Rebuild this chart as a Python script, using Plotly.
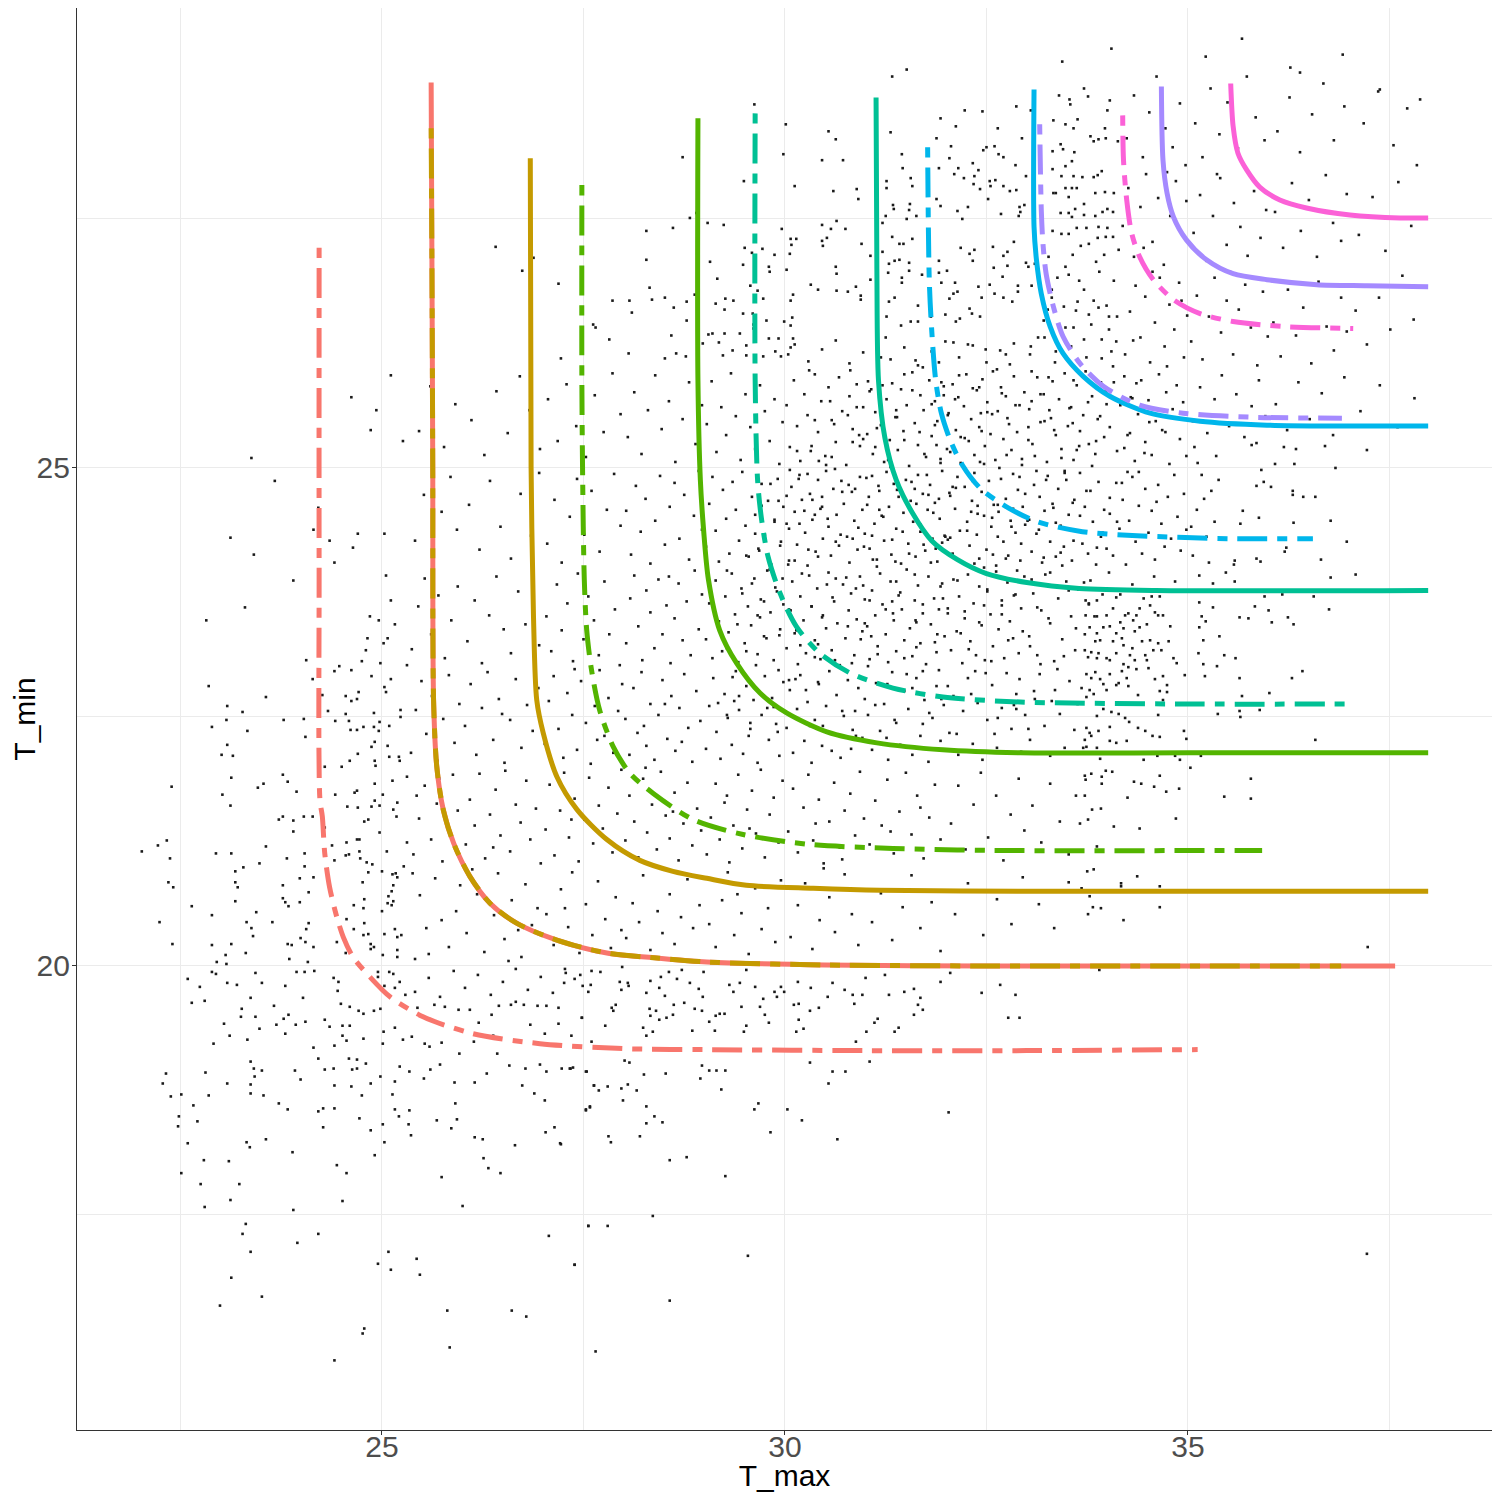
import plotly.graph_objects as go

# T_max, T_min, T_max, T_min, ...
obs_lower_left = [
    22.32, 18.92, 22.28, 18.82, 22.38, 18.69, 22.51, 18.71, 22.48, 18.49, 22.47, 18.39,
    22.66, 18.60, 22.71, 18.44, 22.81, 18.93, 22.85, 18.70, 22.59, 18.22, 22.79, 18.05,
    22.51, 17.92, 22.75, 17.81, 22.80, 17.58, 23.10, 18.04, 23.12, 17.65, 23.23, 17.81,
    23.32, 18.23, 23.36, 18.18, 23.56, 18.26, 23.37, 19.04, 23.41, 18.97, 23.42, 18.89,
    23.37, 18.81, 23.37, 18.72, 23.51, 18.95, 23.53, 18.70, 23.08, 18.82, 23.72, 18.62,
    23.83, 18.56, 23.89, 18.13, 23.90, 17.55, 23.92, 18.95, 23.99, 18.86, 24.21, 18.54,
    24.27, 18.57, 24.27, 18.38, 24.41, 18.57, 24.41, 18.80, 24.40, 18.97, 24.29, 18.96,
    24.21, 19.07, 24.44, 18.00, 24.56, 17.92, 24.51, 17.64, 24.63, 18.96, 24.69, 18.97,
    24.59, 19.07, 24.69, 19.06, 24.80, 19.02, 24.62, 18.79, 24.75, 18.70, 24.72, 18.47,
    24.86, 18.35, 24.86, 18.82, 24.91, 18.10, 24.98, 18.89, 25.01, 18.41, 25.03, 18.23,
    25.13, 18.71, 25.16, 18.84, 25.16, 18.56, 25.21, 18.49, 25.22, 18.99, 25.34, 18.94,
    25.34, 18.55, 25.33, 18.41, 25.36, 18.30, 25.52, 18.87, 25.60, 18.96, 25.72, 19.01,
    25.68, 18.45, 25.86, 18.37, 25.91, 18.62, 25.93, 18.46, 25.90, 18.83, 25.74, 17.88,
    26.00, 17.59, 26.15, 18.83, 26.15, 18.28, 26.25, 18.26, 26.26, 18.07, 26.32, 17.97,
    26.47, 17.92, 26.30, 18.92, 26.58, 19.00, 26.78, 18.97, 26.74, 18.80, 26.89, 18.72,
    26.96, 19.01, 27.04, 18.94, 27.02, 18.65, 27.03, 18.33, 27.14, 18.38, 27.22, 18.21,
    27.23, 18.97, 27.34, 18.97, 27.54, 18.94, 27.53, 18.56, 27.58, 18.58, 27.63, 18.80,
    26.65, 18.20, 23.31, 17.41, 23.27, 17.31, 23.37, 17.13, 23.95, 17.22, 24.21, 17.31,
    23.13, 16.87, 23.51, 16.68, 22.99, 16.59, 25.08, 17.13, 24.95, 17.01, 25.11, 16.95,
    25.43, 17.06, 25.47, 16.90, 25.81, 16.54, 25.84, 16.17, 26.61, 16.54, 26.79, 16.48,
    24.78, 16.36, 24.76, 16.31, 24.41, 16.04, 27.07, 17.29, 27.56, 17.39, 27.39, 17.00,
    27.65, 16.13,
]

obs_band = [
    22.64, 19.63, 22.80, 19.65, 23.04, 19.42, 23.11, 19.30, 22.91, 19.22, 23.25, 19.49,
    23.26, 19.57, 23.33, 19.26, 23.43, 19.49, 23.48, 19.37, 23.66, 19.60, 23.69, 19.41,
    23.78, 19.47, 23.84, 19.51, 23.80, 19.32, 23.93, 19.41, 24.05, 19.44, 24.15, 19.18,
    24.29, 19.46, 24.35, 19.39, 24.51, 19.40, 24.60, 19.40, 24.49, 19.62, 24.60, 19.59,
    24.71, 19.55, 24.77, 19.52, 24.90, 19.55, 24.98, 19.57, 24.51, 19.30, 24.56, 19.25,
    24.41, 19.20, 24.77, 19.27, 25.02, 19.34, 25.01, 19.22, 25.16, 19.38, 25.26, 19.26,
    25.37, 19.29, 25.44, 19.58, 25.53, 19.22, 25.65, 19.61, 25.78, 19.59, 25.74, 19.23,
    25.95, 19.56, 26.09, 19.56, 26.20, 19.43, 26.14, 19.24, 26.36, 19.51, 26.38, 19.30,
    26.45, 19.60, 26.60, 19.61, 26.66, 19.64, 26.76, 19.61, 26.84, 19.41, 26.93, 19.60,
    27.04, 19.60, 27.19, 19.58, 27.19, 19.42, 27.02, 19.32, 27.35, 19.30, 27.48, 19.48,
    27.60, 19.24, 26.43, 19.12, 25.96, 19.12, 25.59, 19.19,
    25.41, 19.74, 25.58, 19.88, 25.72, 19.69, 25.89, 19.95, 26.03, 19.78, 26.19, 19.91,
    26.35, 19.71, 26.50, 19.84, 26.66, 19.97, 26.81, 19.76, 26.97, 19.89, 27.12, 19.73,
]

obs_left = [
    23.38, 25.10, 23.67, 24.87, 23.12, 24.30, 23.41, 24.13, 23.90, 23.87, 23.30, 23.60,
    22.82, 23.47, 24.06, 23.07, 24.14, 22.88, 22.85, 22.81, 23.56, 22.70, 23.08, 22.61,
    23.27, 22.55, 23.07, 22.47, 23.78, 22.47, 22.89, 22.40, 23.33, 22.36, 24.03, 22.48,
    24.05, 22.30, 23.08, 22.22, 23.01, 22.12, 23.15, 22.11, 22.39, 21.80, 23.13, 21.89,
    23.77, 21.92, 23.83, 21.85, 23.46, 21.79, 23.53, 21.83, 23.02, 21.72, 23.12, 21.61,
    23.94, 21.75, 23.72, 21.47, 23.77, 21.50, 23.90, 21.46, 23.90, 21.35, 24.03, 21.50,
    24.14, 21.50, 22.33, 21.26, 22.22, 21.21, 22.02, 21.15, 22.37, 21.08, 22.94, 21.13,
    23.13, 21.13, 23.56, 21.20, 23.82, 21.08, 23.48, 21.03, 23.28, 20.99, 23.18, 20.95,
    24.04, 21.13, 24.04, 21.00, 22.35, 20.84, 22.41, 20.79, 23.18, 20.84, 23.21, 20.79,
    23.77, 20.81, 23.98, 20.88, 24.15, 20.89, 24.09, 20.74, 23.77, 20.68, 23.80, 20.64,
    23.84, 20.60, 23.98, 20.64, 23.18, 20.65, 22.64, 20.60, 22.89, 20.51, 23.44, 20.54,
    22.24, 20.44, 23.32, 20.44, 23.64, 20.44, 23.38, 20.38, 23.40, 20.30, 24.09, 20.43,
    24.06, 20.37, 23.99, 20.28, 24.05, 20.24, 22.40, 20.22, 22.89, 20.21, 23.13, 20.22,
    23.83, 20.22, 23.88, 20.21, 24.15, 20.19, 23.31, 20.13, 23.06, 20.11, 22.95, 20.04,
    23.07, 20.02, 23.85, 20.07, 24.08, 20.04, 22.59, 19.87, 22.74, 19.79, 22.89, 19.94,
    22.94, 19.92, 23.08, 19.83, 23.20, 19.81, 23.43, 19.93, 23.51, 19.83, 23.80, 19.80,
    23.94, 19.94, 24.04, 19.94, 24.16, 19.95, 23.37, 19.68, 24.02, 19.68,
    24.86, 25.38, 25.26, 25.27, 24.21, 24.60, 24.15, 24.38, 24.35, 24.27, 24.41, 24.05,
    24.64, 24.20, 24.70, 24.34, 25.03, 24.34, 25.05, 23.92, 25.11, 23.67, 24.85, 23.51,
    24.96, 23.47, 25.16, 23.43, 24.82, 23.29, 25.02, 23.24, 25.07, 23.29, 24.80, 23.17,
    24.75, 23.06, 24.98, 23.04, 25.31, 23.02, 24.47, 23.01, 24.41, 22.96, 24.62, 22.97,
    24.87, 22.91, 25.11, 22.88, 24.26, 22.72, 24.71, 22.75, 24.55, 22.71, 24.62, 22.66,
    24.69, 22.68, 25.03, 22.80, 25.05, 22.75, 24.33, 22.56, 24.55, 22.53, 24.90, 22.54,
    25.23, 22.57, 25.23, 22.50, 24.42, 22.46, 24.59, 22.46, 24.97, 22.45, 24.61, 22.37,
    24.69, 22.37, 24.77, 22.40, 24.90, 22.40, 25.09, 22.41, 24.96, 22.36, 24.91, 22.25,
    24.87, 22.20, 25.07, 22.21, 24.70, 22.13, 25.09, 22.10, 25.21, 22.10, 25.22, 22.06,
    24.60, 22.06, 24.91, 22.06, 24.92, 22.01, 24.50, 22.00, 24.29, 22.00, 25.31, 21.90,
    25.13, 21.86, 24.91, 21.83, 24.69, 21.76, 24.66, 21.74, 24.42, 21.72, 25.01, 21.72,
    25.19, 21.64, 24.91, 21.66, 24.70, 21.59, 24.57, 21.60, 24.87, 21.60, 24.97, 21.61,
    25.14, 21.57, 25.18, 21.50, 24.78, 21.45, 24.83, 21.47, 24.29, 21.39, 24.97, 21.34,
    24.69, 21.27, 24.72, 21.27, 24.56, 21.24, 25.31, 21.24, 24.38, 21.21, 25.06, 21.15,
    24.72, 21.15, 24.55, 21.11, 24.59, 21.12, 24.41, 21.06, 24.73, 21.08, 24.81, 21.04,
    24.88, 21.02, 25.27, 21.00, 25.00, 20.95, 24.83, 20.94, 25.13, 20.92, 25.17, 20.93,
    25.19, 20.89, 24.76, 20.84, 25.14, 20.81, 25.12, 20.75, 25.08, 20.70, 24.78, 20.67,
    25.14, 20.65, 25.07, 20.63, 25.12, 20.61, 24.65, 20.61, 24.77, 20.58, 25.00, 20.55,
    24.56, 20.47, 24.78, 20.43, 24.65, 20.37, 24.77, 20.31, 24.83, 20.32, 25.16, 20.37,
    25.03, 20.32, 24.44, 20.24, 24.55, 20.13, 24.86, 20.22, 24.90, 20.19, 24.86, 20.17,
    25.19, 20.29, 25.24, 20.31, 25.19, 20.16, 25.19, 20.09, 25.01, 20.11, 24.95, 19.94,
    24.95, 19.89, 25.09, 19.94, 25.14, 19.92, 25.22, 19.84, 24.40, 19.88, 24.46, 19.84,
    24.45, 19.75, 25.03, 19.80, 25.16, 19.78, 25.29, 19.71,
    24.62, 25.71, 25.11, 25.93, 24.93, 25.58,
]

obs_lower_mid = [
    27.21, 18.22, 27.33, 18.97, 27.37, 18.98, 27.53, 18.94, 27.53, 18.55, 27.58, 18.59,
    27.63, 18.80, 27.69, 18.75, 27.80, 18.79, 27.81, 18.29, 27.84, 18.23, 27.97, 18.77,
    27.99, 18.65, 28.01, 19.05, 28.05, 18.81, 28.07, 19.03, 28.16, 18.75, 28.20, 18.29,
    28.25, 18.91, 28.28, 18.59, 28.28, 18.42, 28.38, 18.49, 28.48, 18.43, 28.52, 18.92,
    28.57, 18.05, 28.78, 18.08, 28.95, 18.87, 28.97, 19.00, 29.06, 18.95, 29.15, 18.95,
    29.26, 18.95, 29.21, 18.76, 29.26, 17.89, 29.62, 18.56, 29.67, 18.62, 29.82, 18.33,
    30.03, 18.56, 30.21, 18.45, 30.31, 19.03, 30.54, 18.82, 30.59, 18.94, 30.75, 18.94,
    30.65, 18.26, 31.05, 19.04, 32.03, 18.53, 27.56, 17.39, 27.80, 17.39, 28.36, 17.49,
    27.39, 17.00, 29.54, 17.09, 28.57, 16.64, 37.22, 17.11,
    27.27, 19.97, 27.28, 19.93, 27.26, 19.83, 27.39, 19.87, 27.46, 19.91, 27.49, 19.80,
    27.48, 19.48, 27.56, 19.74, 27.59, 19.81, 27.60, 19.95, 27.71, 19.94, 27.85, 19.58,
    27.87, 19.55, 27.90, 19.61, 27.77, 19.40, 27.95, 19.84, 27.97, 19.76, 27.98, 19.99,
    28.05, 19.83, 28.06, 19.80, 28.24, 19.38, 28.28, 19.30, 28.28, 19.73, 28.33, 19.85,
    28.32, 19.57, 28.33, 19.50, 28.36, 19.34, 28.40, 19.55, 28.44, 19.78, 28.44, 19.46,
    28.46, 19.89, 28.51, 19.70, 28.53, 19.48, 28.56, 19.94, 28.61, 19.51, 28.62, 19.61,
    28.66, 19.87, 28.72, 19.96, 28.75, 19.63, 28.82, 19.83, 28.85, 19.35, 28.88, 19.57,
    28.93, 19.77, 28.97, 19.55, 28.98, 19.69, 28.99, 19.94, 29.06, 19.44, 29.13, 19.35,
    29.14, 19.50, 29.19, 19.52, 29.25, 19.52, 29.31, 19.81, 29.36, 19.74, 29.44, 19.83,
    29.46, 19.59, 29.52, 19.40, 29.49, 19.34, 29.52, 19.96, 29.63, 19.79, 29.69, 19.59,
    29.73, 19.67, 29.75, 19.51, 29.80, 19.43, 29.87, 19.74, 29.90, 19.69, 29.95, 19.79,
    29.99, 19.74, 30.11, 19.61, 30.14, 19.34, 30.16, 19.84, 30.17, 19.62, 30.17, 19.46,
    30.23, 19.37, 30.31, 19.55, 30.32, 19.78, 30.42, 19.58, 30.53, 19.69, 30.59, 19.83,
    30.74, 19.76, 30.84, 19.71, 30.86, 19.62, 30.96, 19.71, 31.00, 19.88, 31.01, 19.34,
    31.11, 19.43, 31.15, 19.47, 31.24, 19.91, 31.29, 19.71, 31.36, 19.34, 31.41, 19.38,
    31.48, 19.74, 31.60, 19.77, 31.60, 19.51, 31.65, 19.61, 31.68, 19.68, 31.71, 19.56,
    31.93, 19.84, 32.05, 19.93, 32.44, 19.73, 32.67, 19.81, 32.77, 19.48, 32.86, 19.71,
    32.91, 19.48, 30.88, 19.24, 33.90, 19.96,
]

obs_right = [
    37.22, 25.18, 36.70, 25.22, 36.83, 25.00, 36.34, 25.19, 36.19, 25.21, 36.32, 25.04,
    36.08, 25.04, 35.85, 25.25, 35.79, 25.23, 35.91, 24.98, 35.94, 24.86, 35.85, 24.82,
    36.03, 24.81, 36.30, 24.77, 36.30, 24.73, 36.43, 24.71, 36.58, 24.71, 36.77, 24.47,
    36.31, 24.45, 35.88, 24.50, 35.68, 24.57, 35.65, 24.44, 36.97, 24.26, 36.22, 24.20,
    36.20, 24.16, 36.65, 24.08, 35.85, 24.09, 35.90, 24.06, 36.77, 23.90, 37.08, 23.93,
    35.58, 24.07, 35.57, 24.03, 35.47, 23.95, 35.58, 23.86, 35.95, 23.71, 36.17, 23.73,
    36.56, 23.71, 36.75, 23.58, 35.83, 23.61, 36.00, 23.57, 35.64, 23.50, 35.75, 23.49,
    36.04, 23.45, 36.24, 23.50, 36.31, 23.43, 35.39, 23.31, 35.45, 23.12, 35.59, 23.09,
    35.36, 23.01, 36.42, 22.96, 36.29, 22.89, 35.64, 22.89, 36.01, 22.74, 35.67, 22.71,
    35.64, 22.56, 35.65, 22.50, 35.37, 22.53, 35.89, 22.57, 36.58, 22.27, 35.78, 21.88,
    35.78, 21.68, 35.45, 21.70, 37.23, 20.19, 35.19, 23.03, 35.21, 22.91, 35.13, 23.14,
    35.19, 23.27, 35.14, 23.65, 35.17, 23.51, 35.14, 23.40, 35.31, 23.60, 35.22, 23.46,
    35.16, 22.11, 35.03, 21.99, 34.98, 22.28, 34.95, 22.36, 34.89, 21.78, 34.85, 21.48,
    34.73, 21.75, 34.65, 21.91, 34.58, 21.80, 34.42, 21.83, 34.33, 21.85, 34.25, 21.69,
    34.08, 21.40, 34.40, 21.38, 33.92, 21.58, 33.81, 21.57, 33.76, 21.47, 33.72, 21.71,
    33.93, 21.83, 34.06, 21.95, 33.98, 21.96, 33.80, 21.93, 33.72, 21.91, 33.73, 21.87,
    33.93, 21.90, 33.87, 21.20, 33.83, 20.97, 33.75, 20.95, 34.37, 20.90, 34.17, 20.83,
    34.17, 20.80, 34.65, 20.80, 33.68, 20.78, 33.78, 20.70, 33.82, 20.59, 33.92, 20.58,
    33.76, 20.52, 34.20, 20.46, 34.65, 20.59, 33.66, 21.43,
    33.73, 23.67, 33.77, 23.63, 33.87, 23.67, 33.94, 23.73, 34.07, 23.59, 34.11, 23.70,
    34.16, 23.73, 33.99, 23.52, 33.87, 23.51, 33.73, 23.52, 34.16, 23.45, 34.22, 23.52,
    34.26, 23.54, 34.32, 23.47, 34.36, 23.52, 34.40, 23.59, 34.45, 23.69, 34.55, 23.71,
    34.65, 23.71, 34.53, 23.62, 34.59, 23.55, 34.63, 23.52, 34.69, 23.52, 34.78, 23.41,
    34.49, 23.43, 34.40, 23.40, 34.34, 23.36, 34.20, 23.39, 34.11, 23.34, 34.03, 23.41,
    33.95, 23.40, 33.87, 23.34, 33.78, 23.40, 33.72, 23.33, 33.85, 23.26, 33.91, 23.27,
    34.07, 23.26, 34.18, 23.29, 34.20, 23.22, 34.31, 23.19, 34.43, 23.26, 34.53, 23.27,
    34.63, 23.24, 34.76, 23.26, 34.67, 23.17, 34.57, 23.17, 34.47, 23.12, 34.34, 23.07,
    34.28, 23.12, 34.11, 23.14, 33.99, 23.09, 33.89, 23.14, 33.80, 23.15, 33.72, 23.17,
    33.76, 23.10, 33.87, 23.09, 34.03, 23.07, 34.20, 23.03, 34.26, 23.00, 34.36, 22.98,
    34.51, 22.99, 34.69, 22.91, 34.59, 22.88, 34.49, 23.07, 34.82, 23.09, 34.86, 23.04,
    34.96, 22.92, 34.74, 22.82, 34.65, 22.76, 34.74, 22.75, 34.69, 22.67, 34.63, 22.52,
    34.38, 22.72, 34.26, 22.81, 34.24, 22.89, 34.14, 22.84, 34.11, 22.82, 33.99, 22.77,
    33.95, 22.83, 33.91, 22.88, 33.80, 22.89, 33.85, 22.95, 33.74, 22.93, 33.78, 22.77,
    33.83, 22.73, 33.74, 22.70, 33.68, 22.79, 34.03, 22.93, 34.18, 22.96, 33.95, 22.58,
    33.87, 22.51, 34.05, 22.55, 34.14, 22.53, 34.22, 22.49, 34.27, 22.45, 34.38, 22.39,
    34.47, 22.36, 34.56, 22.31, 34.65, 22.30, 34.84, 22.11, 34.90, 22.07, 34.03, 22.40,
    33.89, 22.36, 33.78, 22.34, 33.74, 22.39, 33.72, 22.27, 33.80, 22.31, 33.87, 22.19,
    33.74, 22.20, 33.70, 22.19, 33.91, 22.08, 34.03, 22.26, 34.11, 22.24, 34.24, 22.26,
    34.45, 22.07, 34.62, 22.11,
    35.06, 24.12, 35.11, 24.58, 35.17, 24.93, 35.23, 24.31, 35.29, 24.77, 35.35, 25.12,
    35.08, 25.21, 35.14, 23.92, 35.26, 24.05, 35.33, 24.46, 35.20, 24.69, 35.38, 24.88,
    35.04, 24.41, 35.12, 25.05, 35.31, 23.84,
]

obs_upper = [
    31.51, 29.00, 31.33, 28.93, 30.01, 28.45, 29.98, 28.15, 28.73, 28.12, 30.54, 28.38,
    30.63, 28.30, 30.46, 28.09, 30.72, 28.09, 30.12, 27.83, 30.60, 27.78, 30.89, 27.80,
    30.91, 27.70, 29.49, 27.88, 29.62, 28.65, 31.31, 28.37, 31.45, 28.15, 31.46, 28.01,
    31.56, 27.91, 31.58, 27.83, 31.26, 27.88, 31.26, 27.81, 31.93, 28.51, 32.12, 28.43,
    32.23, 28.59, 32.45, 28.58, 31.88, 28.31, 32.06, 28.23, 32.04, 28.11, 31.91, 28.01,
    32.15, 28.01, 32.10, 27.95, 32.22, 27.91, 32.33, 28.06, 32.40, 27.99, 32.35, 27.93,
    32.34, 27.85, 32.42, 27.80, 32.46, 28.19, 32.50, 28.22, 32.64, 28.41, 32.60, 28.23,
    32.65, 28.15, 32.71, 28.12, 32.86, 28.04, 32.87, 28.63, 32.94, 28.31, 33.05, 28.59,
    32.54, 27.88, 32.55, 27.83, 32.61, 27.89, 32.71, 27.83, 32.79, 27.78, 32.87, 27.79,
    32.99, 27.93, 32.52, 27.70, 31.88, 27.70, 31.93, 27.63, 31.55, 27.65, 31.54, 27.59,
    31.34, 27.64, 31.35, 27.60, 31.63, 27.53, 31.51, 27.50, 31.25, 27.53, 32.14, 27.58,
    32.27, 27.62, 32.20, 27.50, 32.68, 27.55, 32.91, 27.62, 32.92, 27.57, 32.97, 27.64,
    32.90, 27.53, 28.82, 27.51, 28.61, 27.41, 28.28, 27.38, 28.28, 27.09, 29.04, 27.46,
    29.24, 27.44, 29.07, 27.07, 29.16, 26.90, 28.32, 26.81, 28.35, 26.69, 28.51, 26.71,
    28.62, 26.61, 28.78, 26.67, 28.78, 26.48, 28.88, 26.74, 29.14, 26.65, 29.26, 26.70,
    29.36, 26.68, 29.25, 26.59, 29.50, 27.21, 29.59, 27.16, 29.72, 27.20, 29.87, 27.14,
    29.80, 27.02, 29.81, 26.97, 29.57, 26.83, 29.73, 26.70, 29.96, 27.40, 30.02, 26.99,
    30.07, 27.30, 30.14, 27.30, 30.08, 27.24, 30.06, 27.15, 30.46, 27.44, 30.57, 27.40,
    30.64, 27.48, 30.75, 27.40, 30.46, 27.28, 30.52, 27.31, 30.47, 27.23, 30.63, 27.02,
    30.64, 26.95, 30.32, 26.84, 30.41, 26.79, 30.10, 26.74, 30.07, 26.68, 30.64, 26.78,
    30.78, 26.77, 30.88, 26.82, 30.94, 26.73, 30.94, 26.69, 31.06, 26.89, 30.95, 27.25,
    31.06, 27.13, 31.21, 27.46, 31.21, 27.17, 31.33, 27.32, 31.42, 27.25, 31.47, 27.25,
    31.58, 27.30, 31.36, 27.08, 31.42, 27.09, 31.29, 27.05, 31.54, 27.06, 31.28, 26.96,
    31.45, 26.91, 31.45, 26.86, 31.54, 26.98, 31.70, 26.94, 31.91, 27.08, 31.91, 26.96,
    32.01, 26.98, 31.94, 26.86, 32.11, 26.86, 32.14, 26.77, 32.09, 26.75, 32.04, 26.70,
    32.18, 27.21, 32.29, 27.15, 32.33, 27.08, 32.35, 27.19, 32.58, 27.22, 32.71, 27.13,
    32.76, 27.17, 32.84, 27.27, 32.59, 27.01, 32.76, 27.03, 32.70, 26.92, 32.99, 27.06,
    33.02, 27.02, 32.54, 26.84, 32.60, 26.75, 32.40, 26.82, 32.44, 26.71, 32.71, 26.71,
    32.82, 26.67, 32.89, 26.83, 32.89, 26.77, 32.29, 26.60, 32.32, 26.55, 32.42, 26.52,
    31.99, 26.54, 32.12, 26.47, 32.17, 26.50, 31.81, 26.52, 31.65, 26.63, 31.65, 26.47,
    31.56, 26.47, 31.44, 26.43, 31.36, 26.71, 31.29, 26.67, 31.26, 26.52, 31.25, 26.31,
    33.40, 28.74, 33.53, 28.70, 33.54, 28.65, 33.71, 28.81, 33.76, 28.73, 34.03, 28.69,
    34.00, 28.59, 33.33, 28.49, 33.48, 28.45, 33.63, 28.50, 33.58, 28.41, 33.97, 28.41,
    33.79, 28.33, 33.89, 28.30, 33.98, 28.31, 33.42, 28.25, 33.32, 28.18, 33.45, 28.20,
    33.59, 28.17, 33.83, 28.28, 34.13, 28.28, 33.48, 28.03, 33.56, 28.08, 33.32, 28.00,
    33.43, 27.93, 33.58, 27.93, 33.69, 27.92, 33.83, 27.92, 33.93, 27.98, 33.88, 27.94,
    33.33, 27.76, 33.48, 27.81, 33.56, 27.81, 33.62, 27.81, 33.36, 27.76, 33.52, 27.72,
    33.71, 27.65, 33.60, 27.60, 33.85, 27.76, 33.97, 27.77, 34.08, 27.76, 34.00, 27.60,
    34.07, 27.57, 33.42, 27.56, 33.52, 27.56, 33.56, 27.52, 33.71, 27.54, 33.85, 27.53,
    33.94, 27.57, 33.32, 27.38, 33.52, 27.35, 33.43, 27.35, 33.62, 27.41, 33.74, 27.41,
    33.89, 27.42, 34.00, 27.41, 33.88, 27.31, 33.98, 27.32, 34.07, 27.32,
    26.41, 27.22, 26.88, 27.11, 26.74, 26.98, 27.19, 26.85, 27.22, 26.10, 27.86, 26.68,
    28.07, 26.68, 28.10, 26.56, 28.90, 27.56, 27.62, 26.44, 27.65, 26.41, 27.82, 26.29,
    28.06, 26.15, 28.59, 26.33, 28.65, 26.15, 28.51, 26.10, 28.77, 26.12, 28.98, 26.25,
    29.05, 26.34, 29.10, 26.35, 29.18, 26.26, 29.25, 26.35, 29.23, 26.13, 29.35, 26.18,
    29.48, 27.04, 29.66, 26.78, 29.48, 26.55, 29.60, 26.55, 29.77, 26.48, 29.99, 26.47,
    30.07, 26.43, 30.09, 26.51, 29.92, 26.30, 29.80, 26.30, 30.10, 26.30, 30.07, 26.21,
    29.88, 26.17, 29.73, 26.12, 29.52, 26.23, 29.61, 26.44, 29.61, 26.40, 29.44, 26.35,
    29.52, 26.13, 30.04, 26.14,
]

# dense middle of the cloud, estimated cell by cell
obs_core = [
    25.41, 20.07, 25.55, 20.38, 25.47, 20.71, 25.83, 20.19, 25.92, 20.55, 25.66, 20.88,
    25.38, 20.93, 25.74, 20.46, 25.97, 20.81, 25.58, 20.12, 26.05, 20.33, 26.18, 20.72,
    26.27, 20.14, 26.39, 20.51, 26.44, 20.93, 26.52, 20.27, 26.61, 20.66, 26.73, 20.09,
    26.78, 20.82, 26.86, 20.41, 26.93, 20.58, 26.12, 20.97, 26.57, 20.05, 26.69, 20.36,
    27.04, 20.52, 27.13, 20.21, 27.22, 20.77, 27.31, 20.39, 27.36, 20.94, 27.45, 20.13,
    27.53, 20.62, 27.61, 20.31, 27.68, 20.85, 27.77, 20.47, 27.84, 20.18, 27.90, 20.69,
    27.97, 20.36, 27.27, 20.58, 28.03, 20.28, 28.11, 20.63, 28.19, 20.44, 28.24, 20.91,
    28.33, 20.16, 28.42, 20.55, 28.48, 20.33, 28.57, 20.72, 28.63, 20.22, 28.71, 20.49,
    28.79, 20.87, 28.86, 20.38, 28.94, 20.61, 28.52, 20.97, 29.06, 20.42, 29.14, 20.19,
    29.22, 20.66, 29.29, 20.94, 29.37, 20.31, 29.46, 20.53, 29.55, 20.12, 29.63, 20.78,
    29.71, 20.37, 29.79, 20.58, 29.88, 20.24, 29.95, 20.86, 29.41, 20.72, 30.07, 20.29,
    30.16, 20.61, 30.25, 20.83, 30.34, 20.17, 30.43, 20.46, 30.55, 20.69, 30.62, 20.34,
    30.74, 20.92, 30.83, 20.52, 30.91, 20.21, 30.48, 20.98, 31.08, 20.44, 31.19, 20.73,
    31.33, 20.26, 31.46, 20.59, 31.57, 20.91, 31.68, 20.38, 31.82, 20.64, 31.93, 20.15,
    32.11, 20.52, 32.27, 20.83, 32.46, 20.31, 32.63, 20.67, 32.81, 20.42, 32.95, 20.89,
    33.15, 20.62, 33.34, 20.38, 33.52, 20.84,
    25.39, 21.12, 25.46, 21.48, 25.53, 21.81, 25.61, 21.27, 25.68, 21.63, 25.75, 21.05,
    25.82, 21.39, 25.88, 21.92, 25.94, 21.56, 25.43, 21.71, 25.71, 21.88, 26.04, 21.22,
    26.09, 21.67, 26.15, 21.41, 26.21, 21.93, 26.28, 21.08, 26.34, 21.52, 26.41, 21.77,
    26.47, 21.31, 26.53, 21.96, 26.59, 21.15, 26.66, 21.62, 26.72, 21.44, 26.79, 21.86,
    26.84, 21.27, 26.91, 21.58, 26.97, 21.03, 26.38, 21.19, 27.03, 21.37, 27.08, 21.82,
    27.14, 21.11, 27.21, 21.56, 27.26, 21.94, 27.32, 21.29, 27.39, 21.68, 27.44, 21.05,
    27.51, 21.47, 27.57, 21.89, 27.62, 21.23, 27.69, 21.61, 27.74, 21.38, 27.81, 21.79,
    27.86, 21.14, 27.92, 21.53, 27.97, 21.97, 27.35, 21.47, 28.02, 21.26, 28.07, 21.71,
    28.13, 21.45, 28.18, 21.09, 28.24, 21.88, 28.29, 21.34, 28.35, 21.62, 28.41, 21.17,
    28.46, 21.95, 28.52, 21.51, 28.57, 21.28, 28.63, 21.74, 28.68, 21.06, 28.74, 21.43,
    28.79, 21.84, 28.85, 21.21, 28.91, 21.58, 28.96, 21.36, 28.27, 21.99, 28.61, 21.55,
    29.03, 21.12, 29.08, 21.49, 29.14, 21.83, 29.19, 21.27, 29.25, 21.64, 29.31, 21.04,
    29.36, 21.41, 29.42, 21.92, 29.47, 21.18, 29.53, 21.57, 29.59, 21.76, 29.64, 21.33,
    29.70, 21.97, 29.75, 21.09, 29.81, 21.52, 29.86, 21.69, 29.92, 21.24, 29.97, 21.86,
    29.28, 21.71, 29.56, 21.38, 30.04, 21.35, 30.10, 21.78, 30.16, 21.14, 30.23, 21.59,
    30.29, 21.92, 30.35, 21.26, 30.42, 21.67, 30.48, 21.03, 30.55, 21.45, 30.61, 21.84,
    30.68, 21.19, 30.74, 21.56, 30.81, 21.73, 30.87, 21.31, 30.93, 21.95, 30.98, 21.48,
    30.38, 21.43, 30.71, 21.07, 31.05, 21.22, 31.12, 21.66, 31.20, 21.41, 31.27, 21.87,
    31.35, 21.13, 31.42, 21.55, 31.50, 21.94, 31.57, 21.32, 31.64, 21.71, 31.72, 21.08,
    31.79, 21.49, 31.86, 21.82, 31.93, 21.27, 31.31, 21.35, 31.68, 21.59, 32.06, 21.43,
    32.15, 21.81, 32.24, 21.17, 32.34, 21.62, 32.43, 21.94, 32.52, 21.29, 32.62, 21.71,
    32.71, 21.06, 32.80, 21.52, 32.90, 21.88, 32.97, 21.36, 33.07, 21.61, 33.18, 21.24,
    33.29, 21.83, 33.41, 21.45, 33.52, 21.12, 33.61, 21.71,
    25.36, 22.14, 25.42, 22.57, 25.49, 22.86, 25.55, 22.33, 25.62, 22.71, 25.69, 22.06,
    25.76, 22.48, 25.83, 22.92, 25.90, 22.24, 25.96, 22.63, 26.03, 22.41, 26.10, 22.83,
    26.17, 22.12, 26.24, 22.59, 26.31, 22.95, 26.38, 22.27, 26.45, 22.68, 26.52, 22.04,
    26.59, 22.47, 26.66, 22.88, 26.73, 22.19, 26.80, 22.62, 26.87, 22.36, 26.94, 22.79,
    26.49, 22.53, 27.02, 22.23, 27.07, 22.66, 27.13, 22.91, 27.19, 22.38, 27.25, 22.09,
    27.30, 22.74, 27.36, 22.52, 27.42, 22.17, 27.47, 22.86, 27.53, 22.44, 27.59, 22.03,
    27.64, 22.61, 27.70, 22.97, 27.76, 22.31, 27.81, 22.69, 27.87, 22.14, 27.93, 22.56,
    27.98, 22.83, 27.39, 22.98, 27.67, 22.27, 28.02, 22.48, 28.07, 22.12, 28.12, 22.79,
    28.17, 22.34, 28.22, 22.95, 28.28, 22.21, 28.33, 22.63, 28.38, 22.07, 28.43, 22.52,
    28.48, 22.87, 28.54, 22.28, 28.59, 22.71, 28.64, 22.16, 28.69, 22.59, 28.75, 22.93,
    28.80, 22.39, 28.85, 22.05, 28.90, 22.76, 28.95, 22.46, 28.25, 22.41, 28.51, 22.63,
    28.72, 22.25, 29.02, 22.18, 29.06, 22.61, 29.11, 22.89, 29.15, 22.35, 29.20, 22.08,
    29.25, 22.73, 29.29, 22.49, 29.34, 22.22, 29.39, 22.96, 29.43, 22.57, 29.48, 22.13,
    29.52, 22.81, 29.57, 22.38, 29.61, 22.67, 29.66, 22.04, 29.71, 22.52, 29.75, 22.91,
    29.80, 22.27, 29.84, 22.69, 29.89, 22.43, 29.93, 22.11, 29.98, 22.85, 29.37, 22.66,
    29.55, 22.31, 29.78, 22.59, 30.02, 22.39, 30.06, 22.77, 30.10, 22.14, 30.15, 22.58,
    30.19, 22.92, 30.24, 22.26, 30.28, 22.65, 30.33, 22.04, 30.37, 22.47, 30.42, 22.83,
    30.46, 22.21, 30.51, 22.61, 30.55, 22.96, 30.60, 22.33, 30.64, 22.72, 30.69, 22.09,
    30.73, 22.51, 30.78, 22.87, 30.82, 22.18, 30.87, 22.56, 30.91, 22.79, 30.96, 22.29,
    30.99, 22.68, 30.31, 22.41, 30.58, 22.16, 30.84, 22.37, 30.13, 22.88, 31.03, 22.52,
    31.08, 22.17, 31.13, 22.84, 31.18, 22.36, 31.23, 22.63, 31.28, 22.07, 31.33, 22.95,
    31.38, 22.44, 31.43, 22.22, 31.48, 22.76, 31.53, 22.58, 31.58, 22.12, 31.63, 22.89,
    31.68, 22.31, 31.73, 22.67, 31.78, 22.05, 31.83, 22.49, 31.88, 22.81, 31.93, 22.26,
    31.97, 22.62, 31.26, 22.29, 31.51, 22.93, 31.71, 22.43, 31.91, 22.97, 32.04, 22.34,
    32.09, 22.71, 32.15, 22.12, 32.21, 22.56, 32.27, 22.89, 32.33, 22.23, 32.39, 22.64,
    32.45, 22.07, 32.51, 22.47, 32.57, 22.82, 32.63, 22.19, 32.69, 22.59, 32.75, 22.94,
    32.81, 22.38, 32.87, 22.73, 32.93, 22.15, 32.98, 22.52, 32.36, 22.96, 32.60, 22.33,
    32.84, 22.62, 33.04, 22.27, 33.10, 22.68, 33.16, 22.93, 33.22, 22.41, 33.29, 22.11,
    33.35, 22.77, 33.41, 22.53, 33.47, 22.19, 33.53, 22.86, 33.59, 22.37, 33.63, 22.63,
    25.37, 23.18, 25.45, 23.61, 25.53, 23.89, 25.61, 23.33, 25.70, 23.72, 25.78, 23.09,
    25.86, 23.47, 25.94, 23.81, 26.06, 23.26, 26.15, 23.67, 26.24, 23.04, 26.33, 23.52,
    26.42, 23.91, 26.51, 23.38, 26.60, 23.14, 26.69, 23.76, 26.78, 23.43, 26.87, 23.97,
    26.95, 23.22, 27.04, 23.51, 27.10, 23.16, 27.17, 23.83, 27.23, 23.37, 27.30, 23.64,
    27.37, 23.06, 27.43, 23.94, 27.50, 23.28, 27.56, 23.71, 27.63, 23.47, 27.69, 23.12,
    27.76, 23.86, 27.82, 23.33, 27.89, 23.58, 27.95, 23.02, 28.03, 23.24, 28.08, 23.69,
    28.13, 23.92, 28.18, 23.41, 28.23, 23.07, 28.28, 23.77, 28.33, 23.55, 28.38, 23.19,
    28.43, 23.88, 28.48, 23.33, 28.53, 23.62, 28.58, 23.04, 28.63, 23.49, 28.68, 23.84,
    28.73, 23.27, 28.78, 23.66, 28.83, 23.12, 28.88, 23.97, 28.93, 23.38, 28.97, 23.73,
    28.56, 23.91, 29.02, 23.28, 29.06, 23.64, 29.10, 23.09, 29.14, 23.87, 29.18, 23.46,
    29.22, 23.16, 29.26, 23.71, 29.30, 23.35, 29.34, 23.94, 29.38, 23.53, 29.42, 23.05,
    29.46, 23.79, 29.50, 23.24, 29.54, 23.61, 29.58, 23.42, 29.62, 23.89, 29.66, 23.13,
    29.70, 23.68, 29.74, 23.31, 29.78, 23.97, 29.82, 23.55, 29.86, 23.07, 29.90, 23.76,
    29.94, 23.38, 29.98, 23.63, 29.28, 23.97, 29.69, 23.50, 30.02, 23.19, 30.05, 23.58,
    30.09, 23.86, 30.12, 23.34, 30.16, 23.03, 30.19, 23.71, 30.23, 23.47, 30.26, 23.14,
    30.30, 23.92, 30.33, 23.61, 30.37, 23.27, 30.40, 23.79, 30.44, 23.08, 30.47, 23.52,
    30.51, 23.39, 30.54, 23.95, 30.58, 23.17, 30.61, 23.66, 30.65, 23.44, 30.68, 23.02,
    30.72, 23.83, 30.75, 23.29, 30.79, 23.57, 30.82, 23.74, 30.86, 23.12, 30.89, 23.48,
    30.93, 23.91, 30.96, 23.36, 30.99, 23.68, 30.41, 23.23, 30.63, 23.89, 31.02, 23.41,
    31.05, 23.08, 31.08, 23.77, 31.12, 23.52, 31.15, 23.21, 31.18, 23.94, 31.21, 23.63,
    31.25, 23.33, 31.28, 23.05, 31.31, 23.86, 31.35, 23.47, 31.38, 23.16, 31.41, 23.72,
    31.45, 23.58, 31.48, 23.27, 31.51, 23.98, 31.55, 23.39, 31.58, 23.11, 31.61, 23.67,
    31.65, 23.82, 31.68, 23.24, 31.71, 23.54, 31.75, 23.03, 31.78, 23.91, 31.81, 23.43,
    31.85, 23.69, 31.88, 23.15, 31.91, 23.58, 31.95, 23.84, 31.98, 23.31, 31.33, 23.66,
    31.63, 23.45, 32.02, 23.54, 32.06, 23.17, 32.09, 23.88, 32.13, 23.36, 32.16, 23.71,
    32.20, 23.04, 32.23, 23.49, 32.27, 23.93, 32.30, 23.26, 32.34, 23.64, 32.37, 23.12,
    32.41, 23.81, 32.44, 23.42, 32.48, 23.07, 32.51, 23.76, 32.55, 23.53, 32.58, 23.21,
    32.62, 23.96, 32.65, 23.38, 32.69, 23.67, 32.72, 23.09, 32.76, 23.85, 32.79, 23.46,
    32.83, 23.29, 32.86, 23.73, 32.90, 23.14, 32.93, 23.59, 32.97, 23.91, 32.47, 23.62,
    33.03, 23.31, 33.08, 23.74, 33.13, 23.12, 33.18, 23.57, 33.23, 23.93, 33.29, 23.44,
    33.34, 23.06, 33.39, 23.69, 33.44, 23.28, 33.49, 23.86, 33.55, 23.51, 33.60, 23.17,
    33.64, 23.78, 33.79, 23.87, 34.02, 23.95, 34.31, 23.83, 34.58, 23.91, 34.84, 23.86,
    25.41, 24.27, 25.52, 24.73, 25.63, 24.12, 25.74, 24.56, 25.85, 24.91, 25.93, 24.38,
    26.08, 24.63, 26.21, 24.18, 26.34, 24.87, 26.47, 24.41, 26.60, 24.09, 26.72, 24.74,
    26.85, 24.32, 26.95, 24.95, 27.05, 24.24, 27.14, 24.68, 27.23, 24.05, 27.33, 24.51,
    27.42, 24.89, 27.51, 24.33, 27.60, 24.77, 27.70, 24.16, 27.79, 24.58, 27.88, 24.94,
    27.96, 24.42, 28.03, 24.57, 28.09, 24.13, 28.15, 24.82, 28.21, 24.36, 28.27, 24.69,
    28.33, 24.04, 28.39, 24.47, 28.45, 24.92, 28.51, 24.23, 28.57, 24.61, 28.63, 24.85,
    28.69, 24.29, 28.75, 24.73, 28.81, 24.08, 28.87, 24.52, 28.93, 24.97, 28.97, 24.38,
    29.02, 24.21, 29.06, 24.64, 29.10, 24.91, 29.14, 24.37, 29.18, 24.06, 29.23, 24.78,
    29.27, 24.49, 29.31, 24.14, 29.35, 24.86, 29.39, 24.58, 29.43, 24.27, 29.47, 24.96,
    29.51, 24.42, 29.55, 24.11, 29.59, 24.71, 29.63, 24.53, 29.67, 24.19, 29.71, 24.84,
    29.75, 24.33, 29.79, 24.67, 29.83, 24.03, 29.87, 24.46, 29.91, 24.89, 29.95, 24.26,
    29.98, 24.61, 30.02, 24.44, 30.05, 24.07, 30.08, 24.81, 30.12, 24.56, 30.15, 24.23,
    30.18, 24.93, 30.21, 24.68, 30.25, 24.35, 30.28, 24.02, 30.31, 24.74, 30.34, 24.48,
    30.38, 24.16, 30.41, 24.88, 30.44, 24.59, 30.47, 24.29, 30.51, 24.97, 30.54, 24.41,
    30.57, 24.12, 30.60, 24.79, 30.64, 24.53, 30.67, 24.22, 30.70, 24.87, 30.73, 24.64,
    30.77, 24.31, 30.80, 24.05, 30.83, 24.76, 30.86, 24.47, 30.90, 24.18, 30.93, 24.91,
    30.96, 24.58, 30.99, 24.34, 30.46, 24.71, 31.02, 24.63, 31.05, 24.19, 31.08, 24.92,
    31.11, 24.44, 31.14, 24.08, 31.17, 24.77, 31.20, 24.52, 31.23, 24.27, 31.26, 24.96,
    31.29, 24.61, 31.32, 24.13, 31.35, 24.84, 31.38, 24.39, 31.41, 24.71, 31.44, 24.04,
    31.47, 24.55, 31.50, 24.88, 31.53, 24.24, 31.56, 24.67, 31.59, 24.46, 31.62, 24.11,
    31.65, 24.93, 31.68, 24.36, 31.71, 24.74, 31.74, 24.17, 31.77, 24.58, 31.80, 24.83,
    31.83, 24.29, 31.86, 24.65, 31.89, 24.06, 31.92, 24.49, 31.95, 24.97, 31.98, 24.32,
    31.37, 24.06, 31.61, 24.79, 32.02, 24.28, 32.05, 24.72, 32.08, 24.14, 32.11, 24.59,
    32.14, 24.91, 32.17, 24.37, 32.20, 24.05, 32.23, 24.81, 32.26, 24.46, 32.29, 24.22,
    32.32, 24.67, 32.35, 24.95, 32.38, 24.33, 32.41, 24.09, 32.44, 24.76, 32.47, 24.52,
    32.50, 24.18, 32.53, 24.87, 32.56, 24.41, 32.59, 24.63, 32.62, 24.02, 32.65, 24.56,
    32.68, 24.89, 32.71, 24.26, 32.74, 24.69, 32.77, 24.12, 32.80, 24.47, 32.83, 24.94,
    32.86, 24.35, 32.89, 24.78, 32.92, 24.07, 32.95, 24.61, 32.98, 24.43, 32.39, 24.62,
    32.64, 24.31, 33.03, 24.48, 33.06, 24.16, 33.09, 24.83, 33.12, 24.34, 33.16, 24.71,
    33.19, 24.05, 33.22, 24.57, 33.26, 24.92, 33.29, 24.26, 33.32, 24.64, 33.36, 24.11,
    33.39, 24.79, 33.42, 24.42, 33.46, 24.21, 33.49, 24.88, 33.52, 24.53, 33.56, 24.07,
    33.59, 24.68, 33.62, 24.37, 33.66, 24.95, 33.69, 24.24, 33.72, 24.61, 33.76, 24.14,
    33.79, 24.77, 33.82, 24.46, 33.86, 24.03, 33.89, 24.86, 33.92, 24.31, 33.96, 24.58,
    33.99, 24.19, 33.47, 24.97, 34.03, 24.54, 34.07, 24.12, 34.11, 24.85, 34.15, 24.39,
    34.19, 24.68, 34.23, 24.03, 34.27, 24.47, 34.31, 24.91, 34.35, 24.26, 34.39, 24.62,
    34.43, 24.14, 34.47, 24.79, 34.51, 24.35, 34.55, 24.57, 34.59, 24.08, 34.63, 24.83,
    34.67, 24.44, 34.71, 24.21, 34.75, 24.71, 34.79, 24.29, 34.83, 24.93, 34.87, 24.51,
    34.91, 24.17, 34.95, 24.74, 34.98, 24.38, 34.25, 24.96, 34.61, 24.66,
    25.46, 25.37, 25.60, 25.82, 25.77, 25.21, 25.91, 25.64, 26.11, 25.48, 26.27, 25.13,
    26.42, 25.77, 26.56, 25.35, 26.71, 25.92, 26.83, 25.58, 26.96, 25.19, 27.06, 25.69,
    27.18, 25.27, 27.29, 25.84, 27.41, 25.42, 27.53, 25.11, 27.64, 25.73, 27.75, 25.36,
    27.86, 25.95, 27.96, 25.54, 28.05, 25.31, 28.13, 25.76, 28.22, 25.14, 28.30, 25.58,
    28.39, 25.93, 28.47, 25.39, 28.56, 25.67, 28.64, 25.06, 28.73, 25.49, 28.81, 25.86,
    28.89, 25.24, 28.97, 25.63, 29.03, 25.44, 29.09, 25.87, 29.15, 25.16, 29.21, 25.61,
    29.27, 25.33, 29.33, 25.95, 29.39, 25.52, 29.45, 25.08, 29.51, 25.74, 29.57, 25.41,
    29.63, 25.19, 29.69, 25.83, 29.75, 25.57, 29.81, 25.27, 29.87, 25.69, 29.93, 25.04,
    29.97, 25.46, 30.02, 25.63, 30.06, 25.21, 30.11, 25.88, 30.15, 25.42, 30.19, 25.07,
    30.24, 25.74, 30.28, 25.53, 30.32, 25.17, 30.37, 25.94, 30.41, 25.36, 30.45, 25.67,
    30.50, 25.12, 30.54, 25.81, 30.58, 25.48, 30.63, 25.26, 30.67, 25.91, 30.71, 25.57,
    30.76, 25.03, 30.80, 25.72, 30.84, 25.39, 30.89, 25.84, 30.93, 25.22, 30.97, 25.61,
    30.30, 25.98, 31.02, 25.34, 31.05, 25.77, 31.09, 25.14, 31.12, 25.56, 31.16, 25.92,
    31.19, 25.43, 31.23, 25.06, 31.26, 25.69, 31.30, 25.28, 31.33, 25.85, 31.37, 25.51,
    31.40, 25.18, 31.44, 25.79, 31.47, 25.37, 31.51, 25.63, 31.54, 25.02, 31.58, 25.96,
    31.61, 25.45, 31.65, 25.23, 31.68, 25.73, 31.72, 25.58, 31.75, 25.11, 31.79, 25.88,
    31.82, 25.32, 31.86, 25.67, 31.89, 25.47, 31.93, 25.09, 31.97, 25.82, 32.02, 25.53,
    32.05, 25.16, 32.08, 25.84, 32.12, 25.38, 32.15, 25.71, 32.18, 25.05, 32.22, 25.62,
    32.25, 25.94, 32.28, 25.27, 32.31, 25.49, 32.35, 25.13, 32.38, 25.78, 32.41, 25.41,
    32.45, 25.89, 32.48, 25.22, 32.51, 25.66, 32.55, 25.34, 32.58, 25.97, 32.61, 25.08,
    32.64, 25.57, 32.68, 25.81, 32.71, 25.29, 32.74, 25.72, 32.78, 25.44, 32.81, 25.18,
    32.84, 25.92, 32.88, 25.36, 32.91, 25.63, 32.94, 25.03, 32.97, 25.76, 32.43, 25.55,
    33.02, 25.28, 33.06, 25.67, 33.10, 25.12, 33.13, 25.91, 33.17, 25.46, 33.21, 25.74,
    33.25, 25.06, 33.28, 25.58, 33.32, 25.87, 33.36, 25.33, 33.40, 25.69, 33.43, 25.19,
    33.47, 25.95, 33.51, 25.42, 33.55, 25.61, 33.58, 25.08, 33.62, 25.83, 33.66, 25.37,
    33.70, 25.53, 33.73, 25.97, 33.77, 25.24, 33.81, 25.72, 33.85, 25.14, 33.88, 25.49,
    33.92, 25.86, 33.96, 25.31, 33.99, 25.64, 33.30, 25.50, 33.65, 25.22, 34.03, 25.41,
    34.08, 25.86, 34.12, 25.17, 34.16, 25.63, 34.21, 25.92, 34.25, 25.33, 34.29, 25.71,
    34.34, 25.07, 34.38, 25.54, 34.42, 25.88, 34.47, 25.26, 34.51, 25.68, 34.55, 25.13,
    34.60, 25.47, 34.64, 25.94, 34.68, 25.38, 34.73, 25.76, 34.77, 25.04, 34.81, 25.59,
    34.86, 25.83, 34.90, 25.29, 34.94, 25.66, 34.98, 25.12, 34.45, 25.61, 34.72, 25.36,
    35.06, 25.47, 35.15, 25.81, 35.24, 25.35, 35.33, 25.69, 35.42, 25.93, 35.51, 25.42,
    35.60, 25.74, 35.70, 25.31, 35.79, 25.62, 35.88, 25.88, 35.96, 25.52, 36.09, 25.64,
    36.23, 25.38, 36.37, 25.86, 36.51, 25.49, 36.66, 25.75, 36.80, 25.33, 36.94, 25.91,
    37.14, 25.57, 37.38, 25.83, 37.60, 25.41, 37.81, 25.70,
    29.95, 26.12, 30.12, 26.24, 30.29, 26.07, 30.46, 26.19, 30.63, 26.28, 30.80, 26.05,
    30.97, 26.16, 31.14, 26.26, 31.31, 26.09, 31.48, 26.21, 31.65, 26.03, 31.82, 26.17,
    31.99, 26.27, 32.16, 26.11, 32.33, 26.23, 32.50, 26.06, 32.67, 26.18, 32.84, 26.25,
]

# the densest band of the cloud, estimated in T_min strips
obs_core_dense = [
    30.47, 22.41, 32.13, 22.33, 29.28, 22.52, 31.36, 22.47, 33.02, 22.38, 29.91, 22.35,
    31.79, 22.54, 30.88, 22.31, 32.64, 22.49, 29.57, 22.44,
    31.12, 22.62, 29.43, 22.71, 32.87, 22.58, 30.26, 22.77, 33.31, 22.66, 31.58, 22.79,
    29.86, 22.60, 32.31, 22.73, 30.71, 22.56, 31.94, 22.68, 29.17, 22.64, 33.09, 22.76,
    30.05, 22.87, 32.49, 22.94, 29.64, 23.02, 31.27, 22.83, 33.38, 22.98, 30.83, 23.04,
    32.02, 22.81, 29.35, 22.90, 31.71, 22.96, 30.41, 22.85, 32.91, 22.88, 31.03, 23.01,
    33.17, 23.03, 29.92, 22.97,
    31.48, 23.09, 29.52, 23.16, 32.77, 23.27, 30.19, 23.22, 33.46, 23.11, 31.86, 23.25,
    30.62, 23.07, 32.28, 23.18, 29.77, 23.29, 31.15, 23.13, 33.04, 23.21, 30.94, 23.28,
    32.56, 23.06, 29.28, 23.19, 31.63, 23.20, 30.37, 23.10,
    30.14, 23.37, 32.41, 23.45, 29.66, 23.52, 31.89, 23.33, 33.27, 23.49, 30.78, 23.41,
    31.34, 23.54, 32.95, 23.36, 29.41, 23.43, 31.07, 23.31, 33.61, 23.39, 30.46, 23.50,
    32.18, 23.34, 31.62, 23.47, 29.93, 23.32, 32.69, 23.53, 30.99, 23.44, 33.84, 23.51,
    31.25, 23.58, 29.74, 23.66, 32.84, 23.72, 30.33, 23.61, 33.52, 23.77, 31.71, 23.63,
    30.88, 23.79, 32.23, 23.56, 29.47, 23.74, 31.96, 23.69, 33.13, 23.60, 30.59, 23.70,
    32.51, 23.78, 31.43, 23.75, 30.07, 23.57, 33.77, 23.64, 31.05, 23.67, 32.69, 23.62,
    29.88, 23.80, 32.02, 23.59,
    30.52, 23.83, 32.66, 23.91, 29.81, 23.98, 31.38, 23.86, 33.44, 24.02, 31.93, 23.81,
    30.21, 23.94, 32.35, 24.04, 33.06, 23.88, 29.59, 23.84, 31.14, 24.01, 30.76, 23.90,
    32.88, 23.97, 31.61, 23.93, 33.71, 23.85, 30.04, 24.03, 32.14, 23.87, 31.81, 24.05,
    30.97, 23.82, 33.29, 23.95, 29.97, 23.89, 32.47, 24.00,
    31.09, 24.08, 29.68, 24.17, 32.93, 24.24, 30.41, 24.11, 33.58, 24.27, 31.54, 24.14,
    30.84, 24.29, 32.19, 24.06, 29.94, 24.22, 31.87, 24.19, 33.21, 24.10, 30.63, 24.26,
    32.58, 24.13, 31.33, 24.28, 30.12, 24.07, 33.87, 24.20, 31.72, 24.23, 32.74, 24.09,
    29.52, 24.12, 32.05, 24.30, 30.29, 24.18, 31.95, 24.25, 33.42, 24.15, 30.98, 24.21,
    30.69, 24.33, 32.81, 24.41, 29.87, 24.48, 31.46, 24.36, 33.66, 24.52, 31.99, 24.31,
    30.18, 24.44, 32.39, 24.54, 33.15, 24.38, 29.63, 24.34, 31.22, 24.51, 30.91, 24.40,
    33.01, 24.47, 31.68, 24.43, 33.94, 24.35, 30.37, 24.53, 32.26, 24.37, 31.84, 24.55,
    31.08, 24.32, 33.36, 24.45, 30.05, 24.39, 32.57, 24.50, 34.12, 24.46, 30.53, 24.49,
    31.17, 24.58, 29.92, 24.67, 32.98, 24.74, 30.46, 24.61, 33.74, 24.77, 31.63, 24.64,
    30.87, 24.79, 32.31, 24.56, 30.02, 24.72, 31.91, 24.69, 33.33, 24.60, 30.71, 24.76,
    32.64, 24.63, 31.39, 24.78, 30.24, 24.57, 34.03, 24.70, 31.78, 24.73, 32.83, 24.59,
    29.71, 24.62, 32.12, 24.80, 30.34, 24.68, 32.04, 24.75, 33.57, 24.65, 31.04, 24.71,
    30.79, 24.83, 32.91, 24.91, 30.06, 24.98, 31.57, 24.86, 33.81, 25.02, 32.08, 24.81,
    30.28, 24.94, 32.47, 25.04, 33.24, 24.88, 29.82, 24.84, 31.31, 25.01, 31.01, 24.90,
    33.12, 24.97, 31.76, 24.93, 34.18, 24.85, 30.51, 25.03, 32.33, 24.87, 31.93, 25.05,
    31.16, 24.82, 33.47, 24.95, 30.17, 24.89, 32.66, 25.00, 34.39, 24.96, 30.62, 24.99,
    31.28, 25.08, 30.15, 25.17, 33.07, 25.24, 30.58, 25.11, 33.86, 25.27, 31.73, 25.14,
    30.97, 25.29, 32.42, 25.06, 30.33, 25.22, 32.01, 25.19, 33.43, 25.10, 30.84, 25.26,
    32.75, 25.13, 31.48, 25.28, 30.42, 25.07, 34.21, 25.20, 31.88, 25.23, 32.94, 25.09,
    32.23, 25.30, 34.46, 25.15, 33.62, 25.18, 31.12, 25.21,
    30.92, 25.33, 33.02, 25.41, 30.37, 25.48, 31.67, 25.36, 33.91, 25.52, 32.18, 25.31,
    30.61, 25.44, 32.57, 25.54, 33.34, 25.38, 31.39, 25.51, 31.14, 25.40, 33.22, 25.47,
    31.86, 25.43, 34.28, 25.35, 30.78, 25.53, 32.44, 25.37, 32.03, 25.55, 33.57, 25.45,
    32.76, 25.50, 34.52, 25.46,
    31.38, 25.58, 30.56, 25.67, 33.17, 25.74, 30.89, 25.61, 33.98, 25.77, 31.82, 25.64,
    31.07, 25.79, 32.51, 25.56, 32.11, 25.69, 33.53, 25.60, 31.58, 25.78, 32.86, 25.63,
    34.31, 25.70, 31.97, 25.73, 33.03, 25.59, 32.33, 25.80, 33.76, 25.66, 32.69, 25.75,
    31.21, 25.83, 33.27, 25.91, 30.81, 25.98, 31.94, 25.86, 34.07, 26.02, 32.41, 25.81,
    31.48, 25.94, 32.79, 26.04, 33.58, 25.88, 31.71, 26.01, 33.06, 25.97, 32.16, 25.93,
    34.36, 25.85, 32.63, 25.99, 33.84, 25.90, 31.03, 25.87,
    31.62, 26.08, 33.36, 26.17, 32.27, 26.24, 31.19, 26.11, 34.11, 26.27, 32.74, 26.14,
    33.71, 26.29, 31.91, 26.06, 33.05, 26.22, 32.49, 26.19, 33.93, 26.10, 32.09, 26.26,
    33.48, 26.41, 34.02, 26.52, 33.22, 26.31, 33.77, 26.54, 33.63, 26.67, 33.89, 26.61,
    33.31, 26.79,
]

# upper right corner of the cloud, estimated
obs_upper_right = [
    33.04, 26.14, 33.21, 26.48, 33.06, 26.83, 33.27, 27.12, 33.35, 26.06, 33.42, 26.37,
    33.31, 26.71, 33.48, 27.02, 33.55, 26.22, 33.61, 26.58, 33.52, 26.94, 33.67, 27.23,
    33.74, 26.11, 33.80, 26.44, 33.71, 26.79, 33.86, 27.07, 33.93, 26.29, 33.99, 26.63,
    33.90, 26.97, 34.05, 26.17, 34.12, 26.52, 34.08, 26.88, 34.14, 27.19, 33.14, 26.31,
    33.38, 26.91, 33.58, 26.41, 33.83, 26.68, 34.02, 26.39, 33.46, 26.62, 33.65, 26.88,
    33.26, 26.59, 33.96, 27.14, 33.77, 27.25, 33.10, 27.05, 33.57, 27.14,
    34.22, 26.14, 34.28, 26.57, 34.35, 26.83, 34.41, 26.31, 34.47, 26.72, 34.53, 26.06,
    34.59, 26.46, 34.65, 26.91, 34.71, 26.22, 34.77, 26.64, 34.83, 26.39, 34.89, 26.86,
    34.95, 26.11, 34.99, 26.53, 34.32, 26.28, 34.56, 26.97, 34.74, 26.02, 34.92, 26.68,
    34.19, 27.43, 34.26, 27.81, 34.33, 27.12, 34.41, 27.62, 34.48, 27.95, 34.56, 27.27,
    34.63, 27.71, 34.70, 27.04, 34.78, 27.53, 34.85, 27.88, 34.92, 27.36, 34.98, 27.68,
    34.45, 27.21, 34.74, 27.97, 34.24, 28.31, 34.33, 28.74, 34.44, 28.12, 34.52, 28.57,
    34.61, 28.93, 34.72, 28.41, 34.81, 28.22, 34.90, 28.66, 34.97, 28.04,
    35.04, 26.27, 35.11, 26.73, 35.18, 26.09, 35.26, 26.52, 35.33, 26.91, 35.41, 26.36,
    35.48, 26.68, 35.56, 26.14, 35.63, 26.59, 35.71, 26.84, 35.78, 26.41, 35.86, 26.03,
    35.93, 26.77, 35.99, 26.32, 35.52, 26.97, 35.07, 27.36, 35.15, 27.74, 35.23, 27.08,
    35.31, 27.53, 35.40, 27.91, 35.48, 27.24, 35.57, 27.66, 35.65, 27.42, 35.74, 27.13,
    35.82, 27.78, 35.90, 27.31, 35.97, 27.59, 35.36, 27.95, 35.09, 28.46, 35.18, 28.12,
    35.28, 28.81, 35.39, 28.35, 35.49, 28.67, 35.62, 28.21, 35.73, 28.93, 35.84, 28.52,
    35.95, 28.29,
    36.06, 26.46, 36.15, 26.12, 36.24, 26.79, 36.34, 26.33, 36.43, 26.61, 36.53, 26.05,
    36.62, 26.87, 36.72, 26.42, 36.81, 26.18, 36.90, 26.71, 36.97, 26.37, 36.08, 27.57,
    36.18, 27.21, 36.29, 27.86, 36.40, 27.38, 36.50, 27.69, 36.60, 27.12, 36.71, 27.94,
    36.80, 27.46, 36.90, 27.28, 36.97, 27.75, 36.11, 28.38, 36.26, 28.72, 36.39, 28.17,
    36.54, 28.55, 36.68, 28.86, 36.81, 28.29, 36.94, 28.63,
    37.08, 26.58, 37.22, 26.24, 37.37, 26.71, 37.51, 26.39, 37.66, 26.93, 37.80, 26.49,
    37.12, 27.34, 37.29, 27.72, 37.45, 27.18, 37.61, 27.87, 37.77, 27.43, 37.18, 28.46,
    37.36, 28.78, 37.55, 28.24, 37.72, 28.61, 37.88, 28.70, 37.84, 28.04, 37.38, 28.80,
    33.44, 29.08, 34.05, 29.21, 35.22, 29.13, 35.67, 29.31, 36.27, 29.02, 36.39, 28.97,
    36.92, 29.15,
]

# Curves (T_max, T_min)
red_solid_tmax = [25.61, 25.62, 25.63, 25.64, 25.68, 25.76, 25.89, 26.09, 26.34, 26.67, 27.17, 27.79, 28.41, 29.03, 30.5, 32.5, 35.0, 37.57]
red_solid_tmin = [28.87, 27.0, 25.0, 22.67, 22.0, 21.57, 21.23, 20.9, 20.63, 20.43, 20.26, 20.13, 20.08, 20.04, 20.01, 20.0, 20.0, 20.0]
red_dash_tmax = [24.22, 24.22, 24.23, 24.26, 24.29, 24.35, 24.44, 24.52, 24.64, 24.85, 25.1, 25.51, 26.13, 26.96, 27.99, 29.03, 31.0, 33.0, 35.12]
red_dash_tmin = [27.21, 24.0, 21.67, 21.5, 21.13, 20.79, 20.49, 20.29, 20.09, 19.89, 19.69, 19.49, 19.32, 19.22, 19.17, 19.16, 19.15, 19.15, 19.16]
olive_solid_tmax = [26.84, 26.85, 26.88, 26.92, 27.0, 27.17, 27.42, 27.79, 28.2, 28.61, 29.03, 29.52, 30.35, 31.18, 33.0, 35.5, 37.98]
olive_solid_tmin = [28.11, 25.0, 23.5, 22.67, 22.34, 21.9, 21.57, 21.27, 21.06, 20.95, 20.88, 20.81, 20.78, 20.76, 20.75, 20.75, 20.75]
olive_dash_tmax = [25.61, 25.62, 25.63, 25.64, 25.68, 25.76, 25.89, 26.09, 26.34, 26.67, 27.17, 27.79, 28.41, 29.03, 30.5, 32.5, 35.0, 36.9]
olive_dash_tmin = [28.41, 27.0, 25.0, 22.67, 22.0, 21.57, 21.23, 20.9, 20.63, 20.43, 20.26, 20.13, 20.08, 20.04, 20.01, 20.0, 20.0, 20.0]
green_solid_tmax = [28.92, 28.92, 28.95, 28.99, 29.05, 29.19, 29.4, 29.69, 30.02, 30.52, 31.14, 31.96, 32.92, 35.0, 37.98]
green_solid_tmin = [28.51, 25.88, 24.88, 24.38, 23.88, 23.37, 23.04, 22.74, 22.54, 22.35, 22.24, 22.17, 22.14, 22.14, 22.14]
green_dash_tmax = [27.48, 27.48, 27.49, 27.51, 27.54, 27.6, 27.7, 27.87, 28.08, 28.37, 28.86, 29.48, 30.31, 31.34, 32.59, 35.92]
green_dash_tmin = [27.84, 25.88, 24.88, 23.88, 23.37, 22.97, 22.57, 22.2, 21.93, 21.73, 21.47, 21.32, 21.22, 21.18, 21.16, 21.16]
teal_solid_tmax = [31.13, 31.14, 31.16, 31.24, 31.38, 31.58, 31.82, 32.14, 32.5, 33.0, 33.65, 34.6, 37.98]
teal_solid_tmin = [28.72, 27.0, 25.88, 25.3, 24.88, 24.55, 24.27, 24.08, 23.94, 23.85, 23.79, 23.77, 23.77]
teal_dash_tmax = [29.63, 29.63, 29.66, 29.71, 29.79, 29.94, 30.14, 30.43, 30.81, 31.34, 31.96, 32.92, 35.0, 37.07]
teal_dash_tmin = [28.56, 25.88, 24.88, 24.48, 24.11, 23.74, 23.41, 23.14, 22.94, 22.79, 22.7, 22.65, 22.63, 22.63]
cyan_solid_tmax = [33.09, 33.09, 33.12, 33.18, 33.29, 33.45, 33.7, 34.03, 34.53, 35.15, 35.98, 36.8, 37.98]
cyan_solid_tmin = [28.8, 27.42, 27.09, 26.75, 26.42, 26.15, 25.92, 25.72, 25.55, 25.47, 25.43, 25.42, 25.42]
cyan_dash_tmax = [31.77, 31.79, 31.82, 31.87, 31.94, 32.05, 32.2, 32.43, 32.77, 33.13, 33.69, 34.37, 35.52, 36.55]
cyan_dash_tmin = [28.22, 26.89, 26.39, 25.88, 25.55, 25.28, 25.03, 24.79, 24.6, 24.46, 24.36, 24.32, 24.29, 24.29]
purple_solid_tmax = [34.67, 34.69, 34.74, 34.82, 34.98, 35.23, 35.56, 35.98, 36.6, 37.22, 37.98]
purple_solid_tmin = [28.83, 28.09, 27.76, 27.52, 27.29, 27.09, 26.95, 26.89, 26.84, 26.83, 26.82]
purple_dash_tmax = [33.16, 33.18, 33.2, 33.24, 33.33, 33.45, 33.66, 33.95, 34.4, 34.94, 35.77, 36.91]
purple_dash_tmin = [28.45, 27.59, 27.26, 26.95, 26.62, 26.32, 26.05, 25.82, 25.63, 25.55, 25.51, 25.5]
pink_solid_tmax = [35.53, 35.56, 35.62, 35.73, 35.89, 36.14, 36.47, 37.01, 37.63, 37.98]
pink_solid_tmin = [28.86, 28.43, 28.16, 27.99, 27.82, 27.69, 27.61, 27.54, 27.51, 27.51]
pink_dash_tmax = [34.19, 34.2, 34.24, 34.3, 34.4, 34.57, 34.82, 35.15, 35.56, 36.18, 37.05]
pink_dash_tmin = [28.54, 28.09, 27.69, 27.36, 27.12, 26.89, 26.69, 26.55, 26.47, 26.42, 26.4]

TWODASH = '10px,10px,30px,10px'
curves = [
    (red_solid_tmax, red_solid_tmin, '#F8766D', 'solid'),
    (red_dash_tmax, red_dash_tmin, '#F8766D', TWODASH),
    (olive_solid_tmax, olive_solid_tmin, '#C49A00', 'solid'),
    (olive_dash_tmax, olive_dash_tmin, '#C49A00', TWODASH),
    (green_solid_tmax, green_solid_tmin, '#53B400', 'solid'),
    (green_dash_tmax, green_dash_tmin, '#53B400', TWODASH),
    (teal_solid_tmax, teal_solid_tmin, '#00C094', 'solid'),
    (teal_dash_tmax, teal_dash_tmin, '#00C094', TWODASH),
    (cyan_solid_tmax, cyan_solid_tmin, '#00B6EB', 'solid'),
    (cyan_dash_tmax, cyan_dash_tmin, '#00B6EB', TWODASH),
    (purple_solid_tmax, purple_solid_tmin, '#A58AFF', 'solid'),
    (purple_dash_tmax, purple_dash_tmin, '#A58AFF', TWODASH),
    (pink_solid_tmax, pink_solid_tmin, '#FB61D7', 'solid'),
    (pink_dash_tmax, pink_dash_tmin, '#FB61D7', TWODASH),
]

tmax_obs, tmin_obs = [], []
for block in (obs_lower_left, obs_band, obs_left, obs_lower_mid, obs_right,
              obs_upper, obs_core, obs_core_dense, obs_upper_right):
    tmax_obs += block[0::2]
    tmin_obs += block[1::2]

fig = go.Figure()
fig.add_trace(go.Scatter(x=tmax_obs, y=tmin_obs, mode='markers',
                         marker=dict(symbol='square', size=2.6, color='#1a1a1a',
                                     line=dict(width=0)),
                         hoverinfo='skip'))

for xs, ys, col, dash in curves:
    fig.add_trace(go.Scatter(x=xs, y=ys, mode='lines',
                             line=dict(color=col, width=5, dash=dash,
                                       shape='spline', smoothing=0.8),
                             hoverinfo='skip'))

axis_font = dict(family='Liberation Sans, Arial, sans-serif', size=30, color='#4D4D4D')
title_font = dict(family='Liberation Sans, Arial, sans-serif', size=30, color='black')

# the page adds an 8px body margin, so the figure is kept a little smaller
fig.update_layout(
    width=1484, height=1484,
    margin=dict(l=69, r=0, t=0, b=62),
    plot_bgcolor='white', paper_bgcolor='white',
    showlegend=False,
    xaxis=dict(range=[21.216, 38.772], tickvals=[25, 30, 35],
               ticks='outside', ticklen=4, tickwidth=1.1, tickcolor='#333333',
               tickfont=axis_font, ticklabelstandoff=-14,
               showgrid=True, gridcolor='#EBEBEB', gridwidth=1.2,
               minor=dict(tickvals=[22.5, 27.5, 32.5, 37.5], showgrid=True,
                          gridcolor='#EBEBEB', gridwidth=0.8, ticks=''),
               showline=True, linecolor='#333333', linewidth=1.1, mirror=True,
               zeroline=False, automargin=False,
               title=dict(text='T_max', font=title_font, standoff=4)),
    yaxis=dict(range=[15.341, 29.618], tickvals=[20, 25],
               ticks='outside', ticklen=4, tickwidth=1.1, tickcolor='#333333',
               tickfont=axis_font, ticklabelstandoff=-4,
               showgrid=True, gridcolor='#EBEBEB', gridwidth=1.2,
               minor=dict(tickvals=[17.5, 22.5, 27.5], showgrid=True,
                          gridcolor='#EBEBEB', gridwidth=0.8, ticks=''),
               showline=True, linecolor='#333333', linewidth=1.1, mirror=True,
               zeroline=False, automargin=False,
               title=dict(text='T_min', font=title_font, standoff=2)),
)

fig.write_html("out.html")
